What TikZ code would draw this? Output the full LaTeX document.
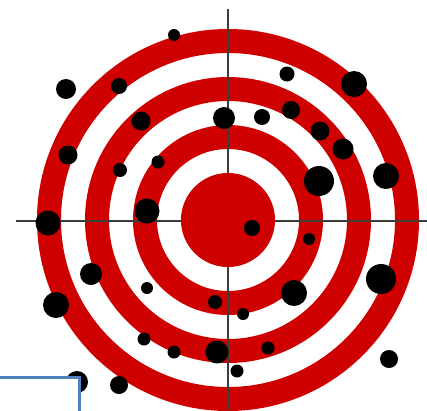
\documentclass[tikz,border=0pt]{standalone}
\definecolor{targetred}{RGB}{206,0,0}
\definecolor{hairgray}{RGB}{60,60,60}
\definecolor{boxblue}{RGB}{79,129,189}
\begin{document}
\begin{tikzpicture}[x=1pt,y=-1pt,line width=1.5pt]
  \useasboundingbox (0,0) rectangle (427,410);
  \clip (0,0) rectangle (427,410);
  \coordinate (c) at (228,220);
  \foreach \ro/\ri in {191/167,143/119,95/71} {
    \fill[targetred,even odd rule] (c) circle[radius=\ro pt] circle[radius=\ri pt];
  }
  \draw[hairgray] (228,9)--(228,410);
  \draw[hairgray] (16,221)--(427,221);
  \fill[targetred] (c) circle[radius=47pt];
  % shots
  \foreach \x/\y/\r in {174/35/6,66/89/10,119/86/8,141/121/9.5,68/155/9.5,120/170/7,
      158/162/6.5,147/211/12.5,287/74/7.5,354/84/13,224/118/11,262/117/8,291/110/9,
      320/131/9.5,343/149/10.5,319/181/15,386/176/13,48/223/12.5,91/274/11,147/288/6,
      56/305/13,144/339/6.5,174/352/6.5,77/382/11,119/385/9,215/302/7,217/352/11.5,
      252/228/8,309/239/6,294/293/13,381/279/15,243/314/6,268/348/6.5,237/371/6.5,
      389/359/9} {
    \fill (\x,\y) circle[radius=\r pt];
  }
  \draw[boxblue,line width=3pt,fill=white] (-10,377.5) rectangle (79.5,430);
\end{tikzpicture}
\end{document}
